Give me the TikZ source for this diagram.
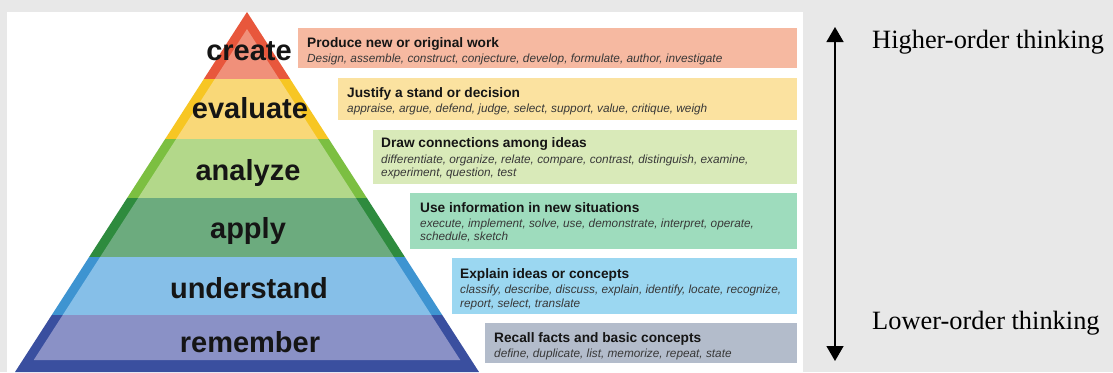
\documentclass[tikz,border=0pt]{standalone}
\usepackage{fontspec}
\setmainfont{Liberation Serif}
\newfontfamily\lblfont{Liberation Sans}
\usetikzlibrary{arrows.meta}

% pyramid colours: outer rim / inner face
\definecolor{createO}{HTML}{E8573C}\definecolor{createI}{HTML}{F0907A}
\definecolor{evalO}{HTML}{F7C623}\definecolor{evalI}{HTML}{F9D878}
\definecolor{analO}{HTML}{7CBF41}\definecolor{analI}{HTML}{B3D88A}
\definecolor{applO}{HTML}{2E8B3E}\definecolor{applI}{HTML}{6CAB7E}
\definecolor{undO}{HTML}{3E94D1}\definecolor{undI}{HTML}{86BFE8}
\definecolor{remO}{HTML}{3A4F9F}\definecolor{remI}{HTML}{8A91C6}
% description boxes
\definecolor{boxA}{HTML}{F6B9A1}
\definecolor{boxB}{HTML}{FBE2A0}
\definecolor{boxC}{HTML}{D9EAB9}
\definecolor{boxD}{HTML}{9EDCBD}
\definecolor{boxE}{HTML}{9BD7F1}
\definecolor{boxF}{HTML}{B3BCCB}
\definecolor{bggray}{HTML}{E8E8E8}
\definecolor{ink}{HTML}{151515}

\begin{document}
\begin{tikzpicture}[x=1pt,y=-1pt,
  level/.style={font=\lblfont\bfseries\fontsize{29}{29}\selectfont, text=ink, anchor=base, inner sep=0pt},
  desc/.style={draw=none, anchor=north west, inner sep=0pt},
  dtitle/.style={font=\lblfont\bfseries\fontsize{13.7}{14}\selectfont, text=ink, anchor=base west, inner sep=0pt},
  dverbs/.style={font=\lblfont\itshape\fontsize{11.8}{12}\selectfont, text=ink!85, anchor=base west, inner sep=0pt},
  side/.style={font=\fontsize{26.4}{26}\selectfont, anchor=west, inner sep=0pt},
  scale arrow/.style={line width=1.4pt, {Triangle[length=15pt,width=17pt]}-{Triangle[length=15pt,width=17pt]}}
]
\useasboundingbox (0,0) rectangle (1113,372);
\fill[bggray] (0,0) rectangle (1113,372);
\fill[white] (7,12) rectangle (803,372);

% pyramid bands: outer rim, then inner face inset by 11pt
\foreach \ya/\yb/\co/\ci in {12/79/createO/createI, 79/139/evalO/evalI,
    139/198/analO/analI, 198/257/applO/applI, 257/315/undO/undI, 315/372/remO/remI}{
  \pgfmathsetmacro\la{247-0.6444*(\ya-12)}
  \pgfmathsetmacro\ra{247+0.6444*(\ya-12)}
  \pgfmathsetmacro\lb{247-0.6444*(\yb-12)}
  \pgfmathsetmacro\rb{247+0.6444*(\yb-12)}
  \fill[\co] (\la,\ya) -- (\ra,\ya) -- (\rb,\yb) -- (\lb,\yb) -- cycle;
  \pgfmathsetmacro\yA{max(\ya,29.07)}
  \pgfmathsetmacro\yB{min(\yb,360)}
  \pgfmathsetmacro\ila{258-0.6444*(\yA-12)}
  \pgfmathsetmacro\ira{236+0.6444*(\yA-12)}
  \pgfmathsetmacro\ilb{258-0.6444*(\yB-12)}
  \pgfmathsetmacro\irb{236+0.6444*(\yB-12)}
  \fill[\ci] (\ila,\yA) -- (\ira,\yA) -- (\irb,\yB) -- (\ilb,\yB) -- cycle;
}

% level names
\node[level] (create)  at (249,60)  {create};
\node[level] (evaluate) at (250,118) {evaluate};
\node[level] (analyze) at (248,180) {analyze};
\node[level] (apply)   at (248,238) {apply};
\node[level] (understand) at (249,298) {understand};
\node[level] (remember) at (250,352) {remember};

% description boxes
\node[desc, fill=boxA, minimum width=499pt, minimum height=40pt] (bA) at (298,28) {};
\node[desc, fill=boxB, minimum width=459pt, minimum height=42pt] (bB) at (338,78) {};
\node[desc, fill=boxC, minimum width=424pt, minimum height=54pt] (bC) at (373,130) {};
\node[desc, fill=boxD, minimum width=387pt, minimum height=56pt] (bD) at (410,193) {};
\node[desc, fill=boxE, minimum width=345pt, minimum height=56pt] (bE) at (452,258) {};
\node[desc, fill=boxF, minimum width=312pt, minimum height=40pt] (bF) at (485,323) {};

\node[dtitle] (tA) at (307,47) {Produce new or original work};
\node[dverbs] (vA) at (307,62) {Design, assemble, construct, conjecture, develop, formulate, author, investigate};

\node[dtitle] (tB) at (347,97) {Justify a stand or decision};
\node[dverbs] (vB) at (347,112) {appraise, argue, defend, judge, select, support, value, critique, weigh};

\node[dtitle] (tC) at (381,147) {Draw connections among ideas};
\node[dverbs] (vC1) at (381,163) {differentiate, organize, relate, compare, contrast, distinguish, examine,};
\node[dverbs] (vC2) at (381,176) {experiment, question, test};

\node[dtitle] (tD) at (420,212) {Use information in new situations};
\node[dverbs] (vD1) at (420,227) {execute, implement, solve, use, demonstrate, interpret, operate,};
\node[dverbs] (vD2) at (420,240) {schedule, sketch};

\node[dtitle] (tE) at (460,278) {Explain ideas or concepts};
\node[dverbs] (vE1) at (460,293) {classify, describe, discuss, explain, identify, locate, recognize,};
\node[dverbs] (vE2) at (460,307) {report, select, translate};

\node[dtitle] (tF) at (494,342) {Recall facts and basic concepts};
\node[dverbs] (vF) at (494,357) {define, duplicate, list, memorize, repeat, state};

% thinking-order scale
\coordinate (hi) at (835,27);
\coordinate (lo) at (835,361);
\draw[scale arrow] (hi) -- (lo);
\node[side] (higher) at (872,42) {Higher-order thinking};
\node[side] (lower) at (872,323) {Lower-order thinking};
\end{tikzpicture}
\end{document}
